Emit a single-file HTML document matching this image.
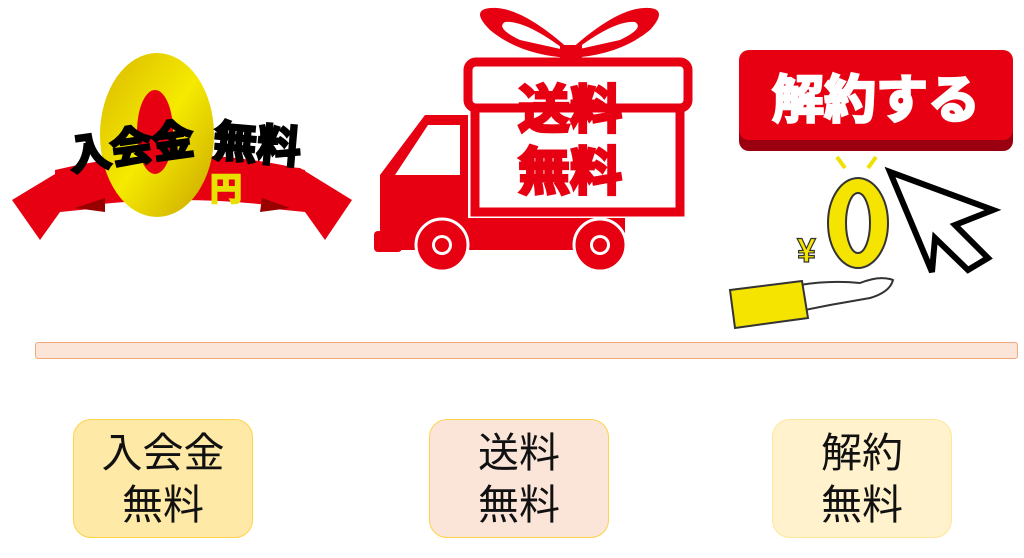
<!DOCTYPE html>
<html><head><meta charset="utf-8"><style>
body{margin:0;width:1024px;height:558px;background:#fff;overflow:hidden;position:relative;font-family:"Liberation Sans","Noto Sans CJK JP",sans-serif}
.bar{position:absolute;left:35px;top:342px;width:981px;height:15px;background:#fbe5d8;border:1px solid #f0a878;border-radius:3px}
.box{position:absolute;top:419px;width:180px;height:119px;border-radius:18px;font-size:41px;line-height:52px;text-align:center;padding-top:7px;box-sizing:border-box;color:#111}
</style></head><body>
<svg width="1024" height="340" style="position:absolute;left:0;top:0" font-family="Liberation Sans,Noto Sans CJK JP,sans-serif">
<defs><linearGradient id="g" x1="0" y1="0" x2="1" y2="1"><stop offset="0" stop-color="#d9b800"/><stop offset=".5" stop-color="#f5ea00"/><stop offset="1" stop-color="#c9a400"/></linearGradient></defs>
<!-- left logo -->
<path d="M12 200 L65 168 L100 165 L100 208 L60 212 L40 240 Z" fill="#e60012"/>
<path d="M352 200 L300 168 L265 165 L265 208 L305 212 L325 240 Z" fill="#e60012"/>
<path d="M55 170 Q180 140 305 170 L305 210 Q180 190 55 210 Z" fill="#e60012"/>
<path d="M75 208 L105 212 L105 198 Z" fill="#900"/><path d="M290 208 L260 212 L262 198 Z" fill="#900"/>
<ellipse cx="157" cy="135" rx="57" ry="82" fill="url(#g)"/>
<ellipse cx="155" cy="132" rx="18" ry="42" fill="#e60012"/>
<text x="68" y="162" font-size="42" font-weight="bold" fill="#000" stroke="#000" stroke-width="2.5" transform="rotate(-8 130 145)">入会金</text>
<text x="213" y="160" font-size="44" font-weight="bold" fill="#000" stroke="#000" stroke-width="2.5" transform="rotate(5 260 145)">無料</text>
<text x="210" y="200" font-size="32" font-weight="bold" fill="#e8e000" stroke="#e8e000" stroke-width="2">円</text>
<!-- gift bow -->
<path d="M570 58 Q520 55 490 30 Q470 10 490 8 Q520 5 570 50 Z" fill="#e60012"/>
<path d="M570 58 Q620 55 650 30 Q668 10 650 8 Q620 5 570 50 Z" fill="#e60012"/>
<path d="M565 50 Q525 20 505 22 Q495 28 520 40 Z" fill="#fff"/>
<path d="M575 50 Q615 20 635 22 Q645 28 620 40 Z" fill="#fff"/>
<rect x="560" y="45" width="22" height="25" fill="#e60012"/>
<!-- truck -->
<path d="M380 250 L380 175 L425 115 L468 115 L468 218 L625 218 L625 250 Z" fill="#e60012"/>
<path d="M395 175 L428 125 L460 125 L460 175 Z" fill="#fff"/>
<rect x="468" y="62" width="220" height="46" rx="8" fill="#fff" stroke="#e60012" stroke-width="9"/>
<rect x="475" y="108" width="205" height="104" fill="#fff" stroke="#e60012" stroke-width="9"/>
<rect x="374" y="231" width="28" height="21" rx="4" fill="#e60012"/>
<circle cx="442" cy="245" r="26" fill="#e60012" stroke="#fff" stroke-width="3"/><circle cx="442" cy="245" r="10" fill="#fff"/><circle cx="442" cy="245" r="7" fill="#e60012"/>
<circle cx="600" cy="245" r="26" fill="#e60012" stroke="#fff" stroke-width="3"/><circle cx="600" cy="245" r="10" fill="#fff"/><circle cx="600" cy="245" r="7" fill="#e60012"/>
<text x="518" y="128" font-size="52" font-weight="bold" fill="#e60012" stroke="#e60012" stroke-width="3">送料</text>
<text x="518" y="190" font-size="52" font-weight="bold" fill="#e60012" stroke="#e60012" stroke-width="3">無料</text>
<!-- right -->
<rect x="739" y="56" width="274" height="95" rx="10" fill="#9b0010"/>
<rect x="739" y="50" width="274" height="90" rx="10" fill="#e60012"/>
<text x="876" y="118" font-size="52" font-weight="bold" fill="#fff" stroke="#fff" stroke-width="2.5" text-anchor="middle">解約する</text>
<path d="M837 157 L845 168 M876 157 L868 168" stroke="#f0e000" stroke-width="4"/>
<ellipse cx="858" cy="223" rx="30" ry="45" fill="#f5e300" stroke="#333" stroke-width="2"/>
<ellipse cx="858" cy="223" rx="12" ry="30" fill="#fff" stroke="#333" stroke-width="2"/>
<text x="797" y="262" font-size="34" font-weight="bold" fill="#f5e300" stroke="#333" stroke-width="1.2">¥</text>
<path d="M890 172 L993 210 L955 225 L988 258 L968 270 L935 238 L932 272 Z" fill="#fff" stroke="#000" stroke-width="6" stroke-linejoin="miter"/>
<path d="M800 285 Q830 280 860 283 Q880 275 893 280 Q890 292 870 298 L830 305 L805 310 Z" fill="#fff" stroke="#333" stroke-width="2"/>
<path d="M730 290 L802 281 L808 318 L735 328 Z" fill="#f5e300" stroke="#333" stroke-width="2"/>
</svg>
<div class="bar"></div>
<div class="box" style="left:73px;background:#ffe9a6;border:1px solid #ffd24a">入会金<br>無料</div>
<div class="box" style="left:429px;background:#fbe5d8;border:1px solid #ffd24a">送料<br>無料</div>
<div class="box" style="left:772px;background:#fff2cc;border:1px solid #ffe699">解約<br>無料</div>
</body></html>
